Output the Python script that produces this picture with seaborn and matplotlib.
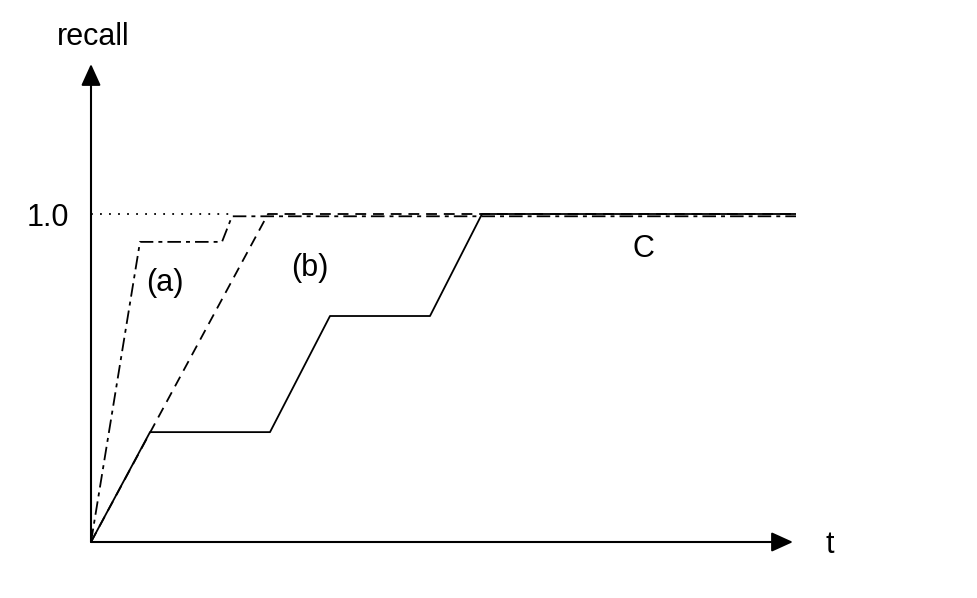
import numpy as np
import matplotlib
matplotlib.use('Agg')
import matplotlib.pyplot as plt
import pandas as pd
import seaborn as sns

# curve values (t in arbitrary units)
t_a = [0, 4.9, 13.1, 14.1, 70.5]
recall_a = [0, 0.915, 0.915, 0.993, 0.993]

t_b = [0, 17.7, 70.5]
recall_b = [0, 1.0, 1.0]

t_c = [0, 5.9, 17.9, 23.9, 33.9, 39.1, 70.5]
recall_c = [0, 0.335, 0.335, 0.689, 0.689, 1.0, 1.0]

t_ref = [0, 14.1]
recall_ref = [1.0, 1.0]

curve_labels = ['(a)', '(b)', 'C']
label_t = [7.4, 21.9, 55.2]
label_recall = [0.79, 0.835, 0.893]

y_ticks = [1.0]
y_tick_labels = ['1.0']


def build_frame():
    parts = []
    for name, t, r in [('a', t_a, recall_a), ('b', t_b, recall_b),
                       ('c', t_c, recall_c), ('ref', t_ref, recall_ref)]:
        parts.append(pd.DataFrame({'t': t, 'recall': r, 'curve': name}))
    return pd.concat(parts, ignore_index=True)


sns.set_theme(style='white')
plt.rcParams['font.family'] = ['Liberation Sans', 'DejaVu Sans']
plt.rcParams['text.color'] = 'black'
plt.rcParams['ytick.color'] = 'black'

data = build_frame()

fig = plt.figure(figsize=(9.78, 5.98), dpi=100)
ax = fig.add_axes([91 / 978, 56 / 598, (796 - 91) / 978, (542 - 64) / 598])

lw = 1.3
dashes = {'a': (7.5, 2.8, 2.2, 2.8), 'b': (6, 3.8), 'c': '', 'ref': (1, 4)}
sns.lineplot(data=data, x='t', y='recall', style='curve', dashes=dashes,
             color='black', linewidth=lw, estimator=None, sort=False,
             legend=False, ax=ax)

x_max = 70.5
y_max = (542 - 64) / 328
ax.set_xlim(0, x_max)
ax.set_ylim(0, y_max)

# arrowed axes
arrow = dict(arrowstyle='-|>,head_length=1.1,head_width=0.5', color='black',
             lw=1.5, shrinkA=0, shrinkB=0)
ax.annotate('', xy=(70.2, 0), xytext=(0, 0), arrowprops=arrow,
            annotation_clip=False)
ax.annotate('', xy=(0, y_max), xytext=(0, 0), arrowprops=arrow,
            annotation_clip=False)

for s in ax.spines.values():
    s.set_visible(False)
ax.set_xticks([])
ax.set_yticks(y_ticks)
ax.set_yticklabels(y_tick_labels, fontsize=22, color='black')
ax.tick_params(axis='y', length=0, pad=16)
ax.set_xlabel('')
ax.set_ylabel('')

ax.text(0.2, 1.54, 'recall', fontsize=22, ha='center', va='center')
ax.text(73.9, -0.01, 't', fontsize=22, ha='center', va='center')
for lab, x, y in zip(curve_labels, label_t, label_recall):
    ax.text(x, y, lab, fontsize=22, ha='center', va='center')

fig.savefig('out.png', dpi=100)
